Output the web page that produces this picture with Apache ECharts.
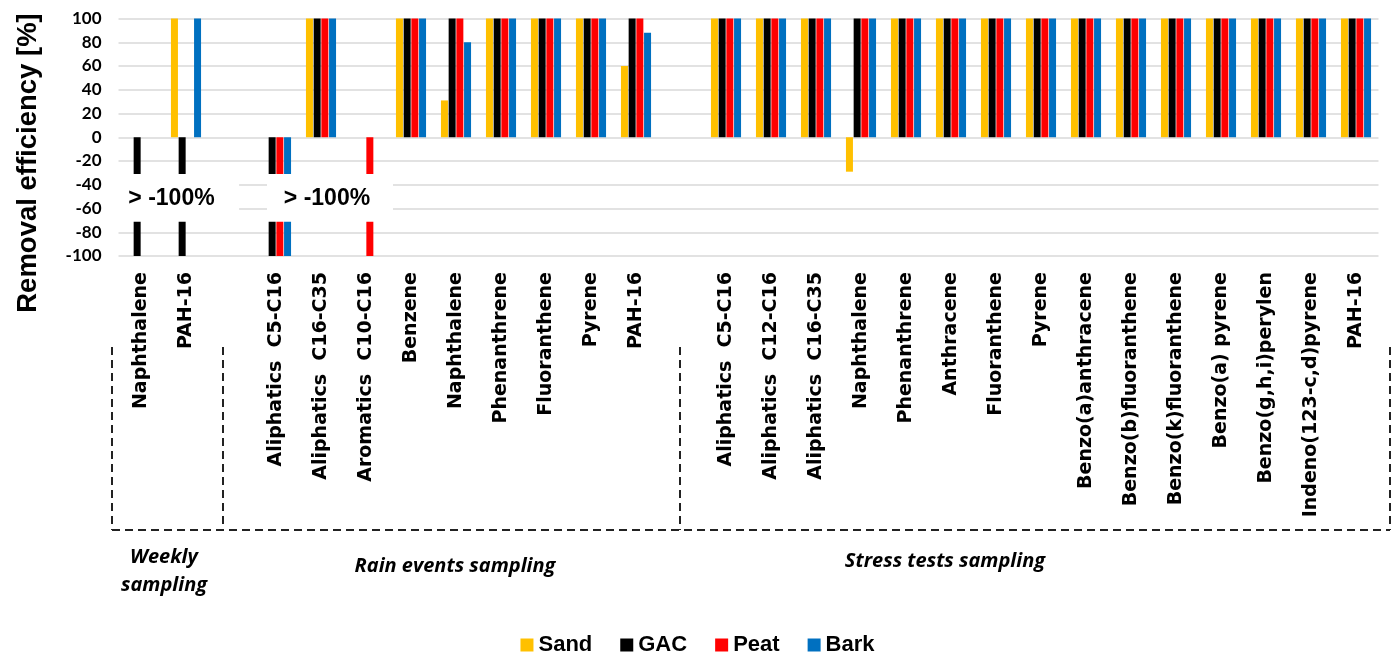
<!DOCTYPE html>
<html><head><meta charset="utf-8">
<script src="https://cdn.jsdelivr.net/npm/echarts@6/dist/echarts.min.js"></script>
<style>html,body{margin:0;padding:0;background:#fff;}#c{width:1395px;height:656px;}</style>
</head><body><div id="c"></div>
<script>
// ---- data ----
const categories = [
  'Naphthalene', 'PAH-16', '',
  'Aliphatics  C5-C16', 'Aliphatics  C16-C35', 'Aromatics  C10-C16', 'Benzene', 'Naphthalene',
  'Phenanthrene', 'Fluoranthene', 'Pyrene', 'PAH-16', ' ',
  'Aliphatics  C5-C16', 'Aliphatics  C12-C16', 'Aliphatics  C16-C35', 'Naphthalene', 'Phenanthrene',
  'Anthracene', 'Fluoranthene', 'Pyrene', 'Benzo(a)anthracene', 'Benzo(b)fluoranthene',
  'Benzo(k)fluoranthene', 'Benzo(a) pyrene', 'Benzo(g,h,i)perylen', 'Indeno(123-c,d)pyrene', 'PAH-16'
];
const seriesNames = ['Sand', 'GAC', 'Peat', 'Bark'];
const sand = [null, 100, null,
  null, 100, null, 100, 31, 100, 100, 100, 60, null,
  100, 100, 100, -29, 100, 100, 100, 100, 100, 100, 100, 100, 100, 100, 100];
const gac = [-100, -100, null,
  -100, 100, null, 100, 100, 100, 100, 100, 100, null,
  100, 100, 100, 100, 100, 100, 100, 100, 100, 100, 100, 100, 100, 100, 100];
const peat = [null, null, null,
  -100, 100, -100, 100, 100, 100, 100, 100, 100, null,
  100, 100, 100, 100, 100, 100, 100, 100, 100, 100, 100, 100, 100, 100, 100];
const bark = [null, 100, null,
  -100, 100, null, 100, 80, 100, 100, 100, 88, null,
  100, 100, 100, 100, 100, 100, 100, 100, 100, 100, 100, 100, 100, 100, 100];
const yMin = -100, yMax = 100, yInterval = 20;
const breakText = '> -100%';
const breakFrom = -30, breakTo = -72;
const groups = [
  {lines: ['Weekly', 'sampling']},
  {lines: ['Rain events sampling']},
  {lines: ['Stress tests sampling']}
];
const yTitle = 'Removal efficiency [%]';

// ---- chart ----
const colors = ['#FFC000', '#000000', '#FF0000', '#0070C0'];
const values = [sand, gac, peat, bark];
const chart = echarts.init(document.getElementById('c'));
const series = seriesNames.map((n, i) => ({
  name: n, type: 'bar', data: values[i], barWidth: 7, barGap: '10%',
  itemStyle: {color: colors[i]}, emphasis: {disabled: true}
}));

chart.setOption({
  animation: false,
  color: colors,
  grid: {left: 118.5, right: 16.5, top: 18.5, bottom: 400},
  legend: {
    data: seriesNames, left: 'center', top: 629, icon: 'rect',
    itemWidth: 13, itemHeight: 13, itemGap: 28,
    textStyle: {fontFamily: 'Liberation Sans', fontWeight: 'bold', fontSize: 22, color: '#000'}
  },
  xAxis: {
    type: 'category', data: categories,
    axisLine: {show: false}, axisTick: {show: false},
    axisLabel: {rotate: 90, margin: 16, interval: 0, fontFamily: 'DejaVu Sans', fontWeight: 'bold', fontSize: 19, color: '#000'}
  },
  yAxis: {
    type: 'value', min: yMin, max: yMax, interval: yInterval,
    axisLine: {show: false}, axisTick: {show: false},
    axisLabel: {margin: 17, fontFamily: 'Lato', fontWeight: 'bold', fontSize: 17, color: '#000'},
    splitLine: {lineStyle: {color: '#d9d9d9', width: 1.5}}
  },
  series: series
});

// ---- annotations positioned from the axes ----
const px = (i) => chart.convertToPixel({xAxisIndex: 0}, i);
const py = (v) => chart.convertToPixel({yAxisIndex: 0}, v);
const band = px(1) - px(0);
const yTop = py(breakFrom), yBot = py(breakTo);
const box1 = [px(0) - 0.55 * band, px(2) + 0.18 * band];
const box2 = [px(3) - 0.2 * band, px(5) + 0.6 * band];
const breakFont = {fontFamily: 'Liberation Sans', fontWeight: 'bold', fontSize: 23, fill: '#000'};
const dash = {stroke: '#222', lineWidth: 2, lineDash: [8, 5]};
const topY = 347, botY = 530;
const xs = [112, 223, 680, 1390];
const graphics = [
  {type: 'rect', shape: {x: box1[0], y: yTop + 1, width: box1[1] - box1[0], height: yBot - yTop - 2}, style: {fill: '#fff'}, z: 10},
  {type: 'rect', shape: {x: box2[0], y: yTop + 1, width: box2[1] - box2[0], height: yBot - yTop - 2}, style: {fill: '#fff'}, z: 10},
  {type: 'text', x: (px(0) + px(1)) / 2 + 8, y: py(-52), z: 11, style: Object.assign({text: breakText, align: 'center', verticalAlign: 'middle'}, breakFont)},
  {type: 'text', x: px(4) + 6, y: py(-52), z: 11, style: Object.assign({text: breakText, align: 'center', verticalAlign: 'middle'}, breakFont)},
  {type: 'text', x: 28, y: 163, rotation: Math.PI / 2, z: 11,
   style: {text: yTitle, align: 'center', verticalAlign: 'middle', fontFamily: 'Liberation Sans', fontWeight: 'bold', fontSize: 27.5, fill: '#000'}},
  {type: 'line', shape: {x1: xs[0], y1: botY, x2: xs[3], y2: botY}, style: dash},
];
xs.forEach(x => graphics.push({type: 'line', shape: {x1: x, y1: topY, x2: x, y2: botY}, style: dash}));
const gStyle = {fontFamily: 'Open Sans', fontStyle: 'italic', fontWeight: 'bold', fontSize: 20, fill: '#000', align: 'center', verticalAlign: 'middle'};
graphics.push({type: 'text', x: 164, y: 557, style: Object.assign({text: groups[0].lines[0]}, gStyle)});
graphics.push({type: 'text', x: 164, y: 585, style: Object.assign({text: groups[0].lines[1]}, gStyle)});
graphics.push({type: 'text', x: 455, y: 566, style: Object.assign({text: groups[1].lines[0]}, gStyle)});
graphics.push({type: 'text', x: 945, y: 561, style: Object.assign({text: groups[2].lines[0]}, gStyle)});
chart.setOption({graphic: {elements: graphics}});
</script>
</body></html>
